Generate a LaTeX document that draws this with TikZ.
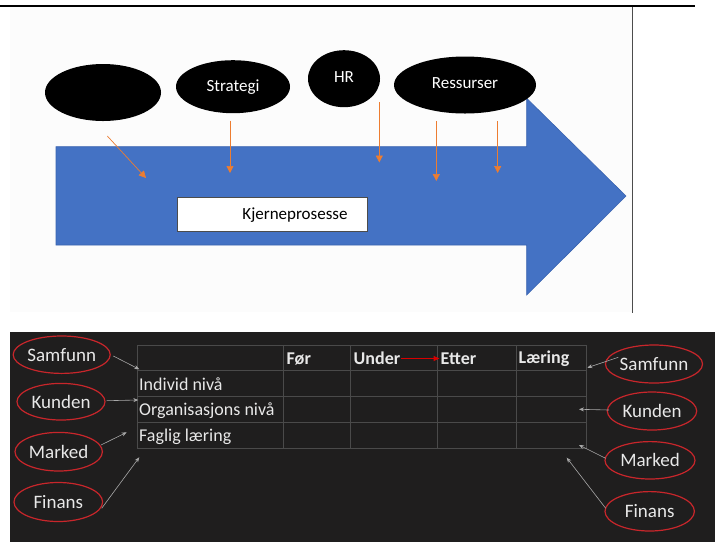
\documentclass[tikz,border=0pt]{standalone}
\usepackage{fontspec}
\setmainfont{Carlito}
\usetikzlibrary{arrows.meta,shapes.geometric}
\definecolor{officeblue}{HTML}{4472C4}
\definecolor{blueedge}{HTML}{3A64B0}
\definecolor{accentorange}{HTML}{ED7D31}
\definecolor{panelgray}{HTML}{1F1E1E}
\definecolor{gridgray}{HTML}{4A4A4A}
\definecolor{textlight}{HTML}{E8E8E8}
\definecolor{ringred}{HTML}{C8262B}
\definecolor{pointergray}{HTML}{A8A8A8}
\definecolor{paper}{HTML}{FCFCFC}
\tikzset{
  blob/.style={ellipse, fill=black, inner sep=0pt, text=white, font=\fontsize{17}{19}\selectfont},
  feed/.style={draw=accentorange, line width=0.7pt, -{Triangle[length=7pt,width=7pt]}},
  ring/.style={ellipse, draw=ringred, line width=1.2pt, inner sep=0pt, text=textlight, font=\fontsize{19}{21}\selectfont},
  pointer/.style={draw=pointergray, line width=0.6pt, -{Stealth[length=5pt,width=4pt]}},
  celltext/.style={anchor=west, text=textlight, inner sep=0pt, font=\fontsize{18}{20}\selectfont},
  headtext/.style={celltext, font=\fontsize{18}{20}\selectfont\bfseries},
}
\begin{document}
\begin{tikzpicture}[x=1pt,y=-1pt]
\useasboundingbox (0,0) rectangle (715,542);
\fill[white] (0,0) rectangle (715,542);

% upper panel
\fill[paper] (10,7) rectangle (632,312);
\draw[black, line width=2.2pt] (0,5.7) -- (695,5.7);
\draw[black!70, line width=1.5pt] (632.3,6.7) -- (632.3,312.7);

% process arrow
\filldraw[fill=officeblue, draw=blueedge, line width=0.6pt]
  (56,146.7) -- (526.7,146.7) -- (526.7,98.3) -- (626,196) -- (526.7,295)
  -- (526.7,245) -- (56,245) -- cycle;

\node[draw=black!70, fill=white, line width=0.6pt, minimum width=190pt, minimum height=34pt, inner sep=0pt,
      text=black, font=\fontsize{17}{19}\selectfont] (core) at (272,214.7) {\hspace*{46pt}Kjerneprosesse};

% input ellipses
\node[blob, minimum width=116pt, minimum height=57pt] (e1) at (103,92.5) {};
\node[blob, minimum width=114pt, minimum height=53pt] (strat) at (233,86.7) {\raisebox{1.5pt}{Strategi}};
\node[blob, minimum width=72pt, minimum height=57pt] (hr) at (344,78.7) {\raisebox{2.5pt}{HR}};
\node[blob, minimum width=142pt, minimum height=57pt] (res) at (465,85) {\raisebox{3pt}{Ressurser}};

% feeding arrows
\coordinate (a1s) at (107.3,136); \coordinate (a1e) at (146,178);
\coordinate (a2s) at (230,120.7); \coordinate (a2e) at (230,173);
\coordinate (a3s) at (379.3,102.3); \coordinate (a3e) at (379.3,162.5);
\coordinate (a4s) at (436.3,121); \coordinate (a4e) at (436.3,181);
\coordinate (a5s) at (497.7,121); \coordinate (a5e) at (497.7,173);
\foreach \s/\e in {a1s/a1e,a2s/a2e,a3s/a3e,a4s/a4e,a5s/a5e}
  \draw[feed] (\s) -- (\e);

% lower panel
\fill[panelgray] (10,331.7) rectangle (715,542);

% table grid
\draw[gridgray, line width=0.8pt] (137,345) rectangle (586,448.3);
\foreach \y in {370.7,396.7,422.7}
  \draw[gridgray, line width=0.8pt] (137,\y) -- (586,\y);
\foreach \x in {283.3,350.7,437.7,516}
  \draw[gridgray, line width=0.8pt] (\x,345) -- (\x,448.3);

% table text
\node[headtext] (hfor) at (286.5,358.5) {Før};
\node[headtext] (hunder) at (353.5,358.5) {Under};
\node[headtext] (hetter) at (440.5,358.5) {Etter};
\node[headtext] (hlaer) at (518.5,358.5) {Læring};
\node[celltext] (r1) at (139,384) {Individ nivå};
\node[celltext] (r2) at (139,410.3) {Organisasjons nivå};
\node[celltext] (r3) at (139,436.3) {Faglig læring};

\draw[draw=red!85!black, line width=1pt, -{Triangle[length=6pt,width=5pt]}]
  ([xshift=1pt]hunder.east) -- ([xshift=-1pt]hetter.west);

% context rings, left
\node[ring, minimum width=88.6pt, minimum height=37.4pt] (ls) at (61.7,354.7) {Samfunn};
\node[ring, minimum width=88pt, minimum height=36.6pt] (lk) at (61,401.7) {Kunden};
\node[ring, minimum width=87.4pt, minimum height=38.6pt] (lm) at (58.7,451.7) {Marked};
\node[ring, minimum width=88.6pt, minimum height=39pt] (lf) at (58.3,502) {Finans};

% context rings, right
\node[ring, minimum width=88pt, minimum height=38pt] (rs) at (654,364) {Samfunn};
\node[ring, minimum width=89.4pt, minimum height=38pt] (rk) at (652,411) {Kunden};
\node[ring, minimum width=90pt, minimum height=37.4pt] (rm) at (650,460.3) {Marked};
\node[ring, minimum width=89.4pt, minimum height=39.4pt] (rf) at (649.7,511.3) {Finans};

% pointer tails beside the rings and heads at the table
\coordinate (qls) at (113.3,356);   \coordinate (pls) at (139.3,369.3);
\coordinate (qlk) at (106.7,400.7); \coordinate (plk) at (138.3,400);
\coordinate (qlm) at (101,445);     \coordinate (plm) at (126.7,432.3);
\coordinate (qlf) at (101.7,508.3); \coordinate (plf) at (139.3,457.3);
\coordinate (qrs) at (618.3,357.3); \coordinate (prs) at (587.3,367.7);
\coordinate (qrk) at (609,410);     \coordinate (prk) at (579,409.3);
\coordinate (qrm) at (605.7,458.3); \coordinate (prm) at (579,445);
\coordinate (qrf) at (605.7,508.3); \coordinate (prf) at (566.7,457.7);
\foreach \s/\e in {qls/pls,qlk/plk,qlm/plm,qlf/plf,qrs/prs,qrk/prk,qrm/prm,qrf/prf}
  \draw[pointer] (\s) -- (\e);
\end{tikzpicture}
\end{document}
